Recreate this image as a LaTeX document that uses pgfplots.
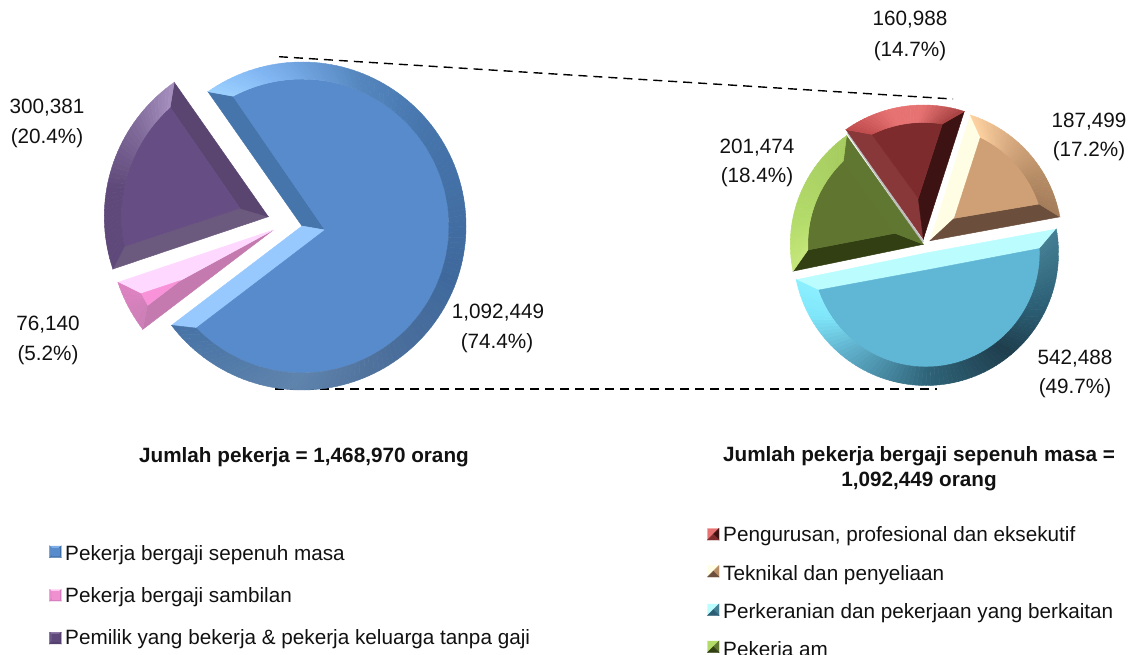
\documentclass[border=0pt]{standalone}
\usepackage{fontspec}
\setmainfont{Liberation Sans}
\usepackage{pgfplots}
\pgfplotsset{compat=1.18}
% ---- helpers: every shape is an \addplot in the axis (1 unit = 1 pixel of the reference)
\newcommand{\poly}[2]{\edef\tmpplot{\noexpand\addplot[forget plot,fill={#1},draw={#1},line width=0.45pt] coordinates {#2} -- cycle;}\tmpplot}
\newcommand{\setpie}[4]{\def\cx{#1}\def\cy{#2}\def\R{#3}\def\r{#4}}
% start angle, value, total
\newcommand{\setang}[3]{\pgfmathsetmacro\aA{#1}\pgfmathsetmacro\aB{#1-#2/#3*360}}
% inner arc angles and inner apex
\newcommand{\setinner}[4]{\def\bA{#1}\def\bB{#2}\def\ix{#3}\def\iy{#4}}
\newcommand{\pol}[4]{\pgfmathsetmacro#1{\cx+(#3)*cos(#4)}\pgfmathsetmacro#2{\cy-(#3)*sin(#4)}}
% faces: inner colour, edge face at start angle, edge face at end angle
\newcommand{\faces}[3]{%
  \pol\oAx\oAy{\R}{\aA}\pol\oBx\oBy{\R}{\aB}\pol\iAx\iAy{\r}{\bA}\pol\iBx\iBy{\r}{\bB}%
  \poly{#2}{(\cx,\cy)(\oAx,\oAy)(\iAx,\iAy)(\ix,\iy)}%
  \poly{#3}{(\cx,\cy)(\oBx,\oBy)(\iBx,\iBy)(\ix,\iy)}%
  \xdef\coords{(\ix,\iy)}%
  \foreach \k in {0,...,40}{%
    \pgfmathsetmacro\ang{\bA+(\bB-\bA)*\k/40}%
    \pol\px\py{\r}{\ang}%
    \xdef\coords{\coords(\px,\py)}%
  }%
  \poly{#1}{\coords}%
}
% arc band between two outer angles, from colour #3 to colour #4
\newcommand{\band}[4]{%
  \pgfmathtruncatemacro\nseg{max(1,ceil(abs(#1-#2)/2))}%
  \pgfmathtruncatemacro\nlast{\nseg-1}%
  \foreach \k in {0,...,\nlast}{%
    \pgfmathsetmacro\uA{(#1)+((#2)-(#1))*\k/\nseg}%
    \pgfmathsetmacro\uB{(#1)+((#2)-(#1))*(\k+1)/\nseg}%
    \pgfmathsetmacro\vA{\bA+(\uA-\aA)/(\aB-\aA)*(\bB-\bA)}%
    \pgfmathsetmacro\vB{\bA+(\uB-\aA)/(\aB-\aA)*(\bB-\bA)}%
    \pgfmathtruncatemacro\pct{100-100*(\k+0.5)/\nseg}%
    \pol\pax\pay{\R}{\uA}\pol\pbx\pby{\R}{\uB}\pol\pcx\pcy{\r}{\vB}\pol\pdx\pdy{\r}{\vA}%
    \poly{#3!\pct!#4}{(\pax,\pay)(\pbx,\pby)(\pcx,\pcy)(\pdx,\pdy)}%
  }%
}
\newcommand{\lab}[3]{\node[anchor=base,inner sep=0pt,text=txt] at (axis cs:#1,#2) {\fontsize{20.7}{24}\selectfont #3};}
\newcommand{\ttl}[3]{\node[anchor=base,inner sep=0pt,text=txt] at (axis cs:#1,#2) {\fontsize{20.7}{24}\selectfont\bfseries #3};}
\newcommand{\leg}[3]{\node[anchor=base west,inner sep=0pt,text=txt] at (axis cs:#1,#2) {\fontsize{20.7}{24}\selectfont #3};}
% left legend key: x, y of the top left corner, colours top, left, right, bottom, centre
\newcommand{\keyL}[7]{%
  \pgfmathsetmacro\xa{#1}\pgfmathsetmacro\xb{#1+11.5}\pgfmathsetmacro\ya{#2}\pgfmathsetmacro\yb{#2+11.5}%
  \pgfmathsetmacro\xm{#1+5.75}\pgfmathsetmacro\ym{#2+5.75}%
  \pgfmathsetmacro\xc{#1+2.2}\pgfmathsetmacro\xd{#1+9.3}\pgfmathsetmacro\yc{#2+2.2}\pgfmathsetmacro\yd{#2+9.3}%
  \poly{#3}{(\xa,\ya)(\xb,\ya)(\xm,\ym)}\poly{#4}{(\xa,\ya)(\xa,\yb)(\xm,\ym)}%
  \poly{#5}{(\xb,\ya)(\xb,\yb)(\xm,\ym)}\poly{#6}{(\xa,\yb)(\xb,\yb)(\xm,\ym)}%
  \poly{#7}{(\xc,\yc)(\xd,\yc)(\xd,\yd)(\xc,\yd)}%
}
% right legend key: upper left triangle, then right and bottom parts of the lower right triangle
\newcommand{\keyR}[5]{%
  \pgfmathsetmacro\xa{#1}\pgfmathsetmacro\xb{#1+11.5}\pgfmathsetmacro\ya{#2}\pgfmathsetmacro\yb{#2+11.5}%
  \pgfmathsetmacro\xm{#1+5.75}\pgfmathsetmacro\ym{#2+5.75}%
  \poly{#3}{(\xa,\ya)(\xb,\ya)(\xa,\yb)}\poly{#4}{(\xb,\ya)(\xb,\yb)(\xm,\ym)}\poly{#5}{(\xa,\yb)(\xb,\yb)(\xm,\ym)}%
}
\definecolor{txt}{HTML}{111111}
% blue
\definecolor{ba}{HTML}{9BD0FF}\definecolor{bb}{HTML}{7FB4F2}\definecolor{bc}{HTML}{5586BE}
\definecolor{bd}{HTML}{4675AC}\definecolor{be}{HTML}{3F699D}\definecolor{bf}{HTML}{4C6F9B}
\definecolor{bg}{HTML}{5F84AC}\definecolor{bh}{HTML}{4873A6}
\definecolor{bi}{HTML}{588BCB}\definecolor{bj}{HTML}{97C9FF}
% purple
\definecolor{pa}{HTML}{A68FBE}\definecolor{pb}{HTML}{7F6A9A}\definecolor{pc}{HTML}{5E497A}
\definecolor{pi}{HTML}{664E84}\definecolor{pd}{HTML}{6B5A7D}\definecolor{pe}{HTML}{5A4470}
% pink
\definecolor{ma}{HTML}{DE82C2}\definecolor{mb}{HTML}{CC7FB6}\definecolor{mi}{HTML}{F993D9}
\definecolor{mc}{HTML}{FFD8FF}\definecolor{md}{HTML}{C47AAE}
% teal
\definecolor{ta}{HTML}{447F94}\definecolor{tb}{HTML}{2B5E74}\definecolor{tc}{HTML}{1F3E4D}
\definecolor{td}{HTML}{2F6479}\definecolor{te}{HTML}{5FAFCB}\definecolor{tf}{HTML}{7FE6FA}
\definecolor{tg}{HTML}{8CF0FF}\definecolor{ti}{HTML}{60B7D5}\definecolor{tj}{HTML}{BBFCFF}
% green
\definecolor{ga}{HTML}{A6CC60}\definecolor{gb}{HTML}{B3DB6A}\definecolor{gc}{HTML}{C6E77B}
\definecolor{gi}{HTML}{5F7530}\definecolor{gd}{HTML}{313F12}\definecolor{ge}{HTML}{5F7730}
% red
\definecolor{ra}{HTML}{C04B4C}\definecolor{rb}{HTML}{E77272}\definecolor{rc}{HTML}{A84343}
\definecolor{ri}{HTML}{7E2B2D}\definecolor{rd}{HTML}{89383A}\definecolor{re}{HTML}{3D1212}
% tan
\definecolor{ca}{HTML}{FFD3A1}\definecolor{cb}{HTML}{D5A77E}\definecolor{cc}{HTML}{B68D65}\definecolor{cd}{HTML}{A47C5B}
\definecolor{ci}{HTML}{CFA075}\definecolor{ce}{HTML}{FFFDE3}\definecolor{cf}{HTML}{6B4E3B}
% legend keys
\definecolor{k1}{HTML}{7DAEE6}\definecolor{k2}{HTML}{5C8CC8}\definecolor{k3}{HTML}{3F6EA6}\definecolor{k4}{HTML}{4A78B0}
\definecolor{k5}{HTML}{FFC8F0}\definecolor{k6}{HTML}{E88CCC}\definecolor{k7}{HTML}{D57FBE}\definecolor{k8}{HTML}{F090D0}
\definecolor{k9}{HTML}{7F6A9A}\definecolor{k10}{HTML}{6A5588}\definecolor{k11}{HTML}{554070}
\begin{document}
\begin{tikzpicture}
\useasboundingbox (0,0) rectangle (1131pt,654pt);
\clip (0,0) rectangle (1131pt,654pt);
\begin{axis}[scale only axis,width=1131pt,height=654pt,xmin=0,xmax=1131,ymin=0,ymax=654,y dir=reverse,axis lines=none,clip=false]
% dashed connectors
\addplot[forget plot,black,line width=1.4pt,dash pattern=on 9pt off 6pt] coordinates {(279,56.7)(953,99)};
\addplot[forget plot,black,line width=1.4pt,dash pattern=on 9pt off 6pt] coordinates {(275,389)(937,389)};
% ===== left pie, total 1468970
% blue 1092449
\setpie{302}{226}{164}{147}\setang{125}{1092.449}{1468.970}\setinner{118}{-136}{325}{230}
\faces{bi}{bd}{bj}
\band{125}{105}{ba}{bb}\band{105}{70}{bb}{bc}\band{70}{40}{bc}{bd}\band{40}{-20}{bd}{be}\band{-20}{-60}{be}{bf}\band{-60}{-95}{bf}{bg}\band{-95}{\aB}{bg}{bh}
% purple 300381
\setpie{268.3}{216.7}{164}{147}\setang{198.61}{300.381}{1468.970}\setinner{191.7}{131.9}{240}{208.3}
\faces{pi}{pd}{pe}
\band{198.61}{170}{pc}{pc}\band{170}{145}{pc}{pb}\band{145}{\aB}{pb}{pa}
% pink 76140
\setpie{273.3}{230}{164}{147}\setang{217.27}{76.140}{1468.970}\setinner{211}{205.7}{180}{280.7}
\faces{mi}{md}{mc}
\band{217.27}{\aB}{mb}{ma}
% ===== right pie, total 1092449
% shadow line between red and green
\addplot[forget plot,draw={black!25},line width=2.2pt] coordinates {(923,242)(848,133)};
% teal 542488
\setpie{926}{253}{132.5}{114}\setang{10.41}{542.488}{1092.449}\setinner{2.3}{-161}{929.5}{269.5}
\faces{ti}{tj}{tj}
\band{10.41}{-25}{ta}{tb}\band{-25}{-50}{tb}{tc}\band{-50}{-90}{tc}{td}\band{-90}{-130}{td}{te}\band{-130}{-152}{te}{tf}\band{-152}{\aB}{tf}{tg}
% green 201474
\setpie{923.3}{244.3}{133}{115.5}\setang{191.65}{201.474}{1092.449}\setinner{182.8}{133.8}{895}{233.3}
\faces{gi}{gd}{ge}
\band{191.65}{170}{gc}{gb}\band{170}{\aB}{gb}{ga}
% red 160988
\setpie{923.3}{239}{134}{116.6}\setang{125.26}{160.988}{1092.449}\setinner{116.2}{80.6}{918.3}{198.3}
\faces{ri}{rd}{re}
\band{125.26}{105}{ra}{rb}\band{105}{90}{rb}{rb}\band{90}{\aB}{rb}{rc}
% tan 187499
\setpie{930}{240.7}{132}{115}\setang{72.21}{187.499}{1092.449}\setinner{64}{18.6}{954.3}{218.3}
\faces{ci}{ce}{cf}
\band{72.21}{50}{ca}{cb}\band{50}{30}{cb}{cc}\band{30}{\aB}{cc}{cd}
% value labels
\lab{910}{25}{160,988}\lab{910}{56}{(14.7\%)}
\lab{1089}{127}{187,499}\lab{1089}{156}{(17.2\%)}
\lab{757}{153}{201,474}\lab{757}{182}{(18.4\%)}
\lab{47}{113}{300,381}\lab{47}{143}{(20.4\%)}
\lab{48}{330}{76,140}\lab{48}{360}{(5.2\%)}
\lab{498}{318}{1,092,449}\lab{497}{348}{(74.4\%)}
\lab{1075}{364}{542,488}\lab{1075}{393}{(49.7\%)}
% titles
\ttl{304}{462}{Jumlah pekerja = 1,468,970 orang}
\ttl{919}{461}{Jumlah pekerja bergaji sepenuh masa =}
\ttl{919}{486}{1,092,449 orang}
% legends
\keyL{49.7}{546}{k1}{k2}{k3}{k4}{bi}
\keyL{49.7}{589.5}{k5}{k6}{k7}{k7}{k8}
\keyL{49.7}{632.3}{k9}{k10}{k11}{k11}{pc}
\keyR{707.5}{528.5}{rb}{re}{ri}
\keyR{707.5}{565.5}{ce}{cc}{cf}
\keyR{707.5}{604}{tj}{ta}{tb}
\keyR{707.5}{641}{gb}{ge}{gd}
\leg{65}{560}{Pekerja bergaji sepenuh masa}
\leg{65}{602}{Pekerja bergaji sambilan}
\leg{65}{644}{Pemilik yang bekerja \& pekerja keluarga tanpa gaji}
\leg{723}{541}{Pengurusan, profesional dan eksekutif}
\leg{723}{580}{Teknikal dan penyeliaan}
\leg{723}{618}{Perkeranian dan pekerjaan yang berkaitan}
\leg{723}{656}{Pekerja am}
\end{axis}
\end{tikzpicture}
\end{document}
